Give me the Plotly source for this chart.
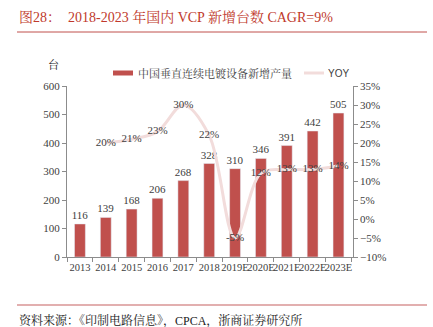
import plotly.graph_objects as go
from plotly.subplots import make_subplots

years = ["2013", "2014", "2015", "2016", "2017", "2018", "2019E", "2020E", "2021E", "2022E", "2023E"]
units = [116, 139, 168, 206, 268, 328, 310, 346, 391, 442, 505]
yoy_years = years[1:]
yoy = [20, 21, 23, 30, 22, -5, 12, 13, 13, 14]

BAR = "#C0504D"
LINE = "#F2DCDB"
TXT = "#404040"
SERIF = "Liberation Serif, Times New Roman, Noto Serif CJK SC, Noto Sans CJK SC, serif"

fig = make_subplots(specs=[[{"secondary_y": True}]])
fig.add_trace(go.Bar(x=years, y=units, marker_color=BAR, width=0.42,
                     text=[str(v) for v in units], textposition="outside", constraintext="none",
                     textfont=dict(size=11, color=TXT, family=SERIF),
                     cliponaxis=False, showlegend=False), secondary_y=False)
fig.add_trace(go.Scatter(x=yoy_years, y=yoy, mode="lines+text",
                         line=dict(color=LINE, width=3, shape="spline", smoothing=1.0),
                         text=[f"{v}%" for v in yoy], textposition="middle center",
                         textfont=dict(size=11, color=TXT, family=SERIF),
                         cliponaxis=False, showlegend=False), secondary_y=True)

axis_common = dict(showgrid=False, zeroline=False, showline=True, linecolor="#8C8C8C",
                   ticks="outside", ticklen=4, tickcolor="#8C8C8C",
                   tickfont=dict(size=11, color=TXT, family=SERIF))
fig.update_xaxes(**axis_common, tickson="boundaries", type="category", tickangle=0)
fig.update_xaxes(tickfont=dict(size=10.5, color=TXT, family=SERIF))
fig.update_yaxes(**axis_common, range=[0, 600], dtick=100, secondary_y=False)
fig.update_yaxes(**axis_common, range=[-10, 35], dtick=5, ticksuffix="%", secondary_y=True)

H = 171.0
W = 304.0
def px(x):
    return (x - 67) / W
def py(y):
    return (257 - y) / H

fig.add_annotation(text="图28：  2018-2023 年国内 VCP 新增台数 CAGR=9%", xref="paper", yref="paper",
                   x=px(17), y=py(17), showarrow=False, xanchor="left", yanchor="middle",
                   font=dict(size=14, color="#C0392B", family=SERIF))
fig.add_shape(type="line", xref="paper", yref="paper", x0=px(17), x1=px(427),
              y0=py(32), y1=py(32), line=dict(color="#C0504D", width=1))
fig.add_shape(type="line", xref="paper", yref="paper", x0=px(17), x1=px(427),
              y0=py(305), y1=py(305), line=dict(color="#D99594", width=1.5))
fig.add_annotation(text="资料来源：《印制电路信息》，CPCA，浙商证券研究所", xref="paper", yref="paper",
                   x=px(17), y=py(320), showarrow=False, xanchor="left", yanchor="middle",
                   font=dict(size=12, color="#222222", family=SERIF))
fig.add_annotation(text="台", xref="paper", yref="paper", x=px(53), y=py(65),
                   showarrow=False, xanchor="center", yanchor="middle",
                   font=dict(size=11, color="#222222", family=SERIF))
ly = py(73)
fig.add_shape(type="rect", xref="paper", yref="paper", x0=px(113), x1=px(133),
              y0=ly - 2.5 / H, y1=ly + 2.5 / H, fillcolor=BAR, line=dict(width=0))
fig.add_annotation(text="中国垂直连续电镀设备新增产量", xref="paper", yref="paper", x=px(136), y=ly,
                   showarrow=False, xanchor="left", yanchor="middle",
                   font=dict(size=11, color=TXT, family=SERIF))
fig.add_shape(type="line", xref="paper", yref="paper", x0=px(304), x1=px(324),
              y0=ly, y1=ly, line=dict(color=LINE, width=3))
fig.add_annotation(text="YOY", xref="paper", yref="paper", x=px(326), y=ly,
                   showarrow=False, xanchor="left", yanchor="middle",
                   font=dict(size=10, color=TXT, family="Liberation Sans, Arial, sans-serif"))

fig.update_layout(width=433, height=327, margin=dict(l=67, r=62, t=86, b=70),
                  plot_bgcolor="white", paper_bgcolor="white", bargap=0.58, showlegend=False)
fig.write_html("out.html")
